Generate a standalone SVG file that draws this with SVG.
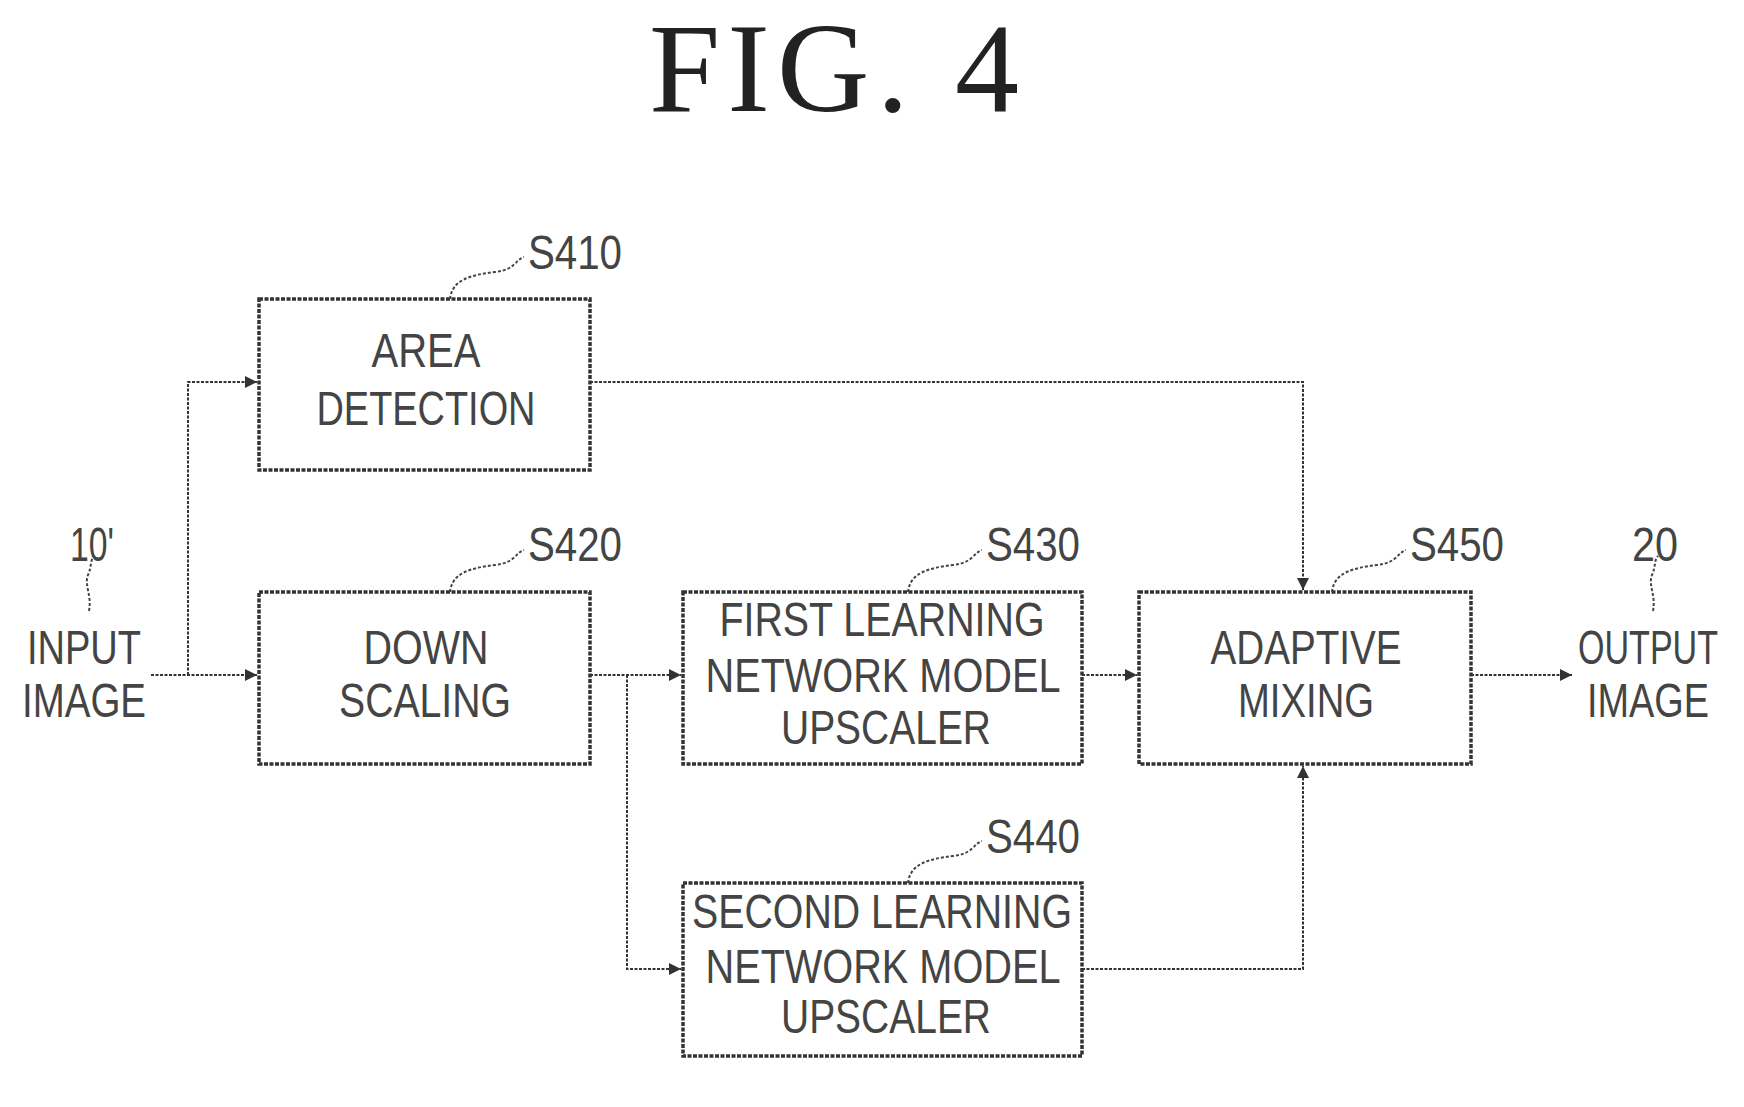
<svg xmlns="http://www.w3.org/2000/svg" width="1744" height="1107" viewBox="0 0 1744 1107">
<style>
.box{fill:#fff;stroke:#333;stroke-width:3.5;stroke-dasharray:4 1.5}
.t{font-family:"Liberation Sans",Arial,sans-serif;font-size:48px;fill:#444;text-anchor:middle}
.c{fill:none;stroke:#333;stroke-width:2;stroke-dasharray:3 1.5}
.lead{fill:none;stroke:#444;stroke-width:2;stroke-dasharray:3 2}
.title{font-family:"Liberation Serif","Times New Roman",serif;font-size:128px;fill:#222;text-anchor:middle}
</style>
<defs>
<marker id="a" viewBox="0 0 10 10" refX="10" refY="5" markerWidth="14" markerHeight="12" markerUnits="userSpaceOnUse" orient="auto"><path d="M0,0 L10,5 L0,10 Z" fill="#333"/></marker>
</defs>
<rect width="1744" height="1107" fill="#fff"/>
<text class="title" x="834" y="111" textLength="370" lengthAdjust="spacing">FIG. 4</text>
<g id="connectors">
<path class="c" d="M151,675 H257" marker-end="url(#a)"/>
<path class="c" d="M188,675 V382 H257" marker-end="url(#a)"/>
<path class="c" d="M590,675 H681" marker-end="url(#a)"/>
<path class="c" d="M627,675 V969 H681" marker-end="url(#a)"/>
<path class="c" d="M590,382 H1303 V590" marker-end="url(#a)"/>
<path class="c" d="M1082,675 H1137" marker-end="url(#a)"/>
<path class="c" d="M1082,969 H1303 V766" marker-end="url(#a)"/>
<path class="c" d="M1471,675 H1572" marker-end="url(#a)"/>
</g>
<g id="input"><text class="t" x="84" y="664" textLength="114" lengthAdjust="spacingAndGlyphs">INPUT</text><text class="t" x="84" y="717" textLength="124" lengthAdjust="spacingAndGlyphs">IMAGE</text>
<text class="t" x="92" y="561" textLength="44" lengthAdjust="spacingAndGlyphs">10'</text><path class="lead" d="M89,611 C92,595 84,585 88,575 C92,566 90,560 94,556"/></g>
<g id="s410"><rect class="box" x="259" y="299" width="331" height="171"/><text class="t" x="426" y="367" textLength="109" lengthAdjust="spacingAndGlyphs">AREA</text><text class="t" x="426" y="425" textLength="219" lengthAdjust="spacingAndGlyphs">DETECTION</text>
<text class="t" x="575" y="269" textLength="94" lengthAdjust="spacingAndGlyphs">S410</text><path class="lead" d="M450,299 C452,280 470,275 495,272 C515,270 515,260 524,257"/></g>
<g id="s420"><rect class="box" x="259" y="592" width="331" height="172"/><text class="t" x="426" y="664" textLength="125" lengthAdjust="spacingAndGlyphs">DOWN</text><text class="t" x="425" y="717" textLength="172" lengthAdjust="spacingAndGlyphs">SCALING</text>
<text class="t" x="575" y="561" textLength="94" lengthAdjust="spacingAndGlyphs">S420</text><path class="lead" d="M450,592 C452,573 470,568 495,565 C515,563 515,553 524,550"/></g>
<g id="s430"><rect class="box" x="683" y="592" width="399" height="172"/><text class="t" x="882" y="636" textLength="325" lengthAdjust="spacingAndGlyphs">FIRST LEARNING</text><text class="t" x="883" y="692" textLength="355" lengthAdjust="spacingAndGlyphs">NETWORK MODEL</text><text class="t" x="886" y="744" textLength="210" lengthAdjust="spacingAndGlyphs">UPSCALER</text>
<text class="t" x="1033" y="561" textLength="94" lengthAdjust="spacingAndGlyphs">S430</text><path class="lead" d="M908,592 C910,573 928,568 953,565 C973,563 973,553 982,550"/></g>
<g id="s440"><rect class="box" x="683" y="883" width="399" height="173"/><text class="t" x="882" y="928" textLength="380" lengthAdjust="spacingAndGlyphs">SECOND LEARNING</text><text class="t" x="883" y="983" textLength="355" lengthAdjust="spacingAndGlyphs">NETWORK MODEL</text><text class="t" x="886" y="1033" textLength="210" lengthAdjust="spacingAndGlyphs">UPSCALER</text>
<text class="t" x="1033" y="853" textLength="94" lengthAdjust="spacingAndGlyphs">S440</text><path class="lead" d="M908,883 C910,864 928,859 953,856 C973,854 973,844 982,841"/></g>
<g id="s450"><rect class="box" x="1139" y="592" width="332" height="172"/><text class="t" x="1306" y="664" textLength="191" lengthAdjust="spacingAndGlyphs">ADAPTIVE</text><text class="t" x="1306" y="717" textLength="136" lengthAdjust="spacingAndGlyphs">MIXING</text>
<text class="t" x="1457" y="561" textLength="94" lengthAdjust="spacingAndGlyphs">S450</text><path class="lead" d="M1332,592 C1334,573 1352,568 1377,565 C1397,563 1397,553 1406,550"/></g>
<g id="output"><text class="t" x="1648" y="664" textLength="140" lengthAdjust="spacingAndGlyphs">OUTPUT</text><text class="t" x="1648" y="717" textLength="122" lengthAdjust="spacingAndGlyphs">IMAGE</text>
<text class="t" x="1655" y="561" textLength="46" lengthAdjust="spacingAndGlyphs">20</text><path class="lead" d="M1653,611 C1656,595 1648,585 1652,575 C1656,566 1654,560 1658,556"/></g>
</svg>
